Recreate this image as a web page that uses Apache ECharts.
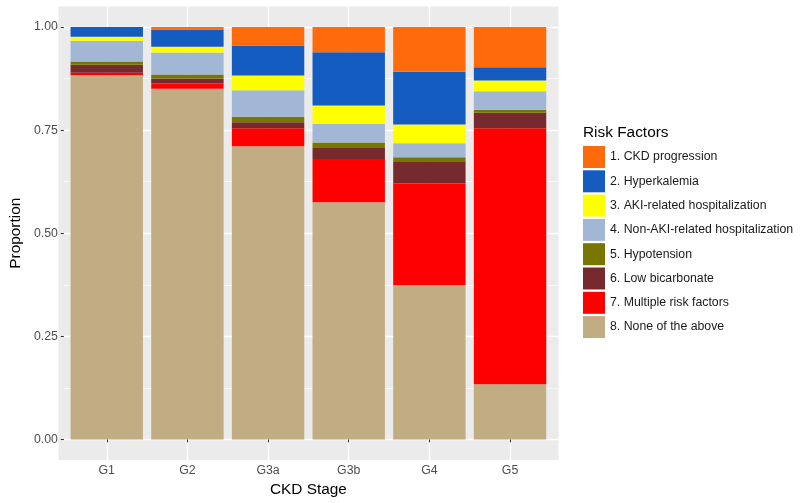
<!DOCTYPE html>
<html>
<head>
<meta charset="utf-8">
<script src="https://cdn.jsdelivr.net/npm/echarts@6/dist/echarts.min.js"></script>
<style>html,body{margin:0;padding:0;background:#fff}#c{width:800px;height:503px}</style>
</head>
<body>
<div id="c"></div>
<script>
var stages = ['G1', 'G2', 'G3a', 'G3b', 'G4', 'G5'];
var yTicks = [0, 0.25, 0.5, 0.75, 1];
var riskNames = ['1. CKD progression', '2. Hyperkalemia', '3. AKI-related hospitalization',
  '4. Non-AKI-related hospitalization', '5. Hypotension', '6. Low bicarbonate',
  '7. Multiple risk factors', '8. None of the above'];
var ckdProgression = [0.0000, 0.0056, 0.0444, 0.0607, 0.1085, 0.0971];
var hyperkalemia   = [0.0235, 0.0422, 0.0728, 0.1293, 0.1277, 0.0323];
var akiHosp        = [0.0097, 0.0136, 0.0357, 0.0447, 0.0454, 0.0259];
var nonAkiHosp     = [0.0500, 0.0534, 0.0648, 0.0452, 0.0339, 0.0454];
var hypotension    = [0.0080, 0.0097, 0.0129, 0.0114, 0.0097, 0.0073];
var lowBicarbonate = [0.0195, 0.0122, 0.0145, 0.0284, 0.0542, 0.0371];
var multipleRisk   = [0.0062, 0.0131, 0.0437, 0.1053, 0.2466, 0.6209];
var noneAbove      = [0.8831, 0.8502, 0.7112, 0.5750, 0.3740, 0.1340];

var seriesData = [ckdProgression, hyperkalemia, akiHosp, nonAkiHosp, hypotension, lowBicarbonate, multipleRisk, noneAbove];
var colors = ['#FF6A0C', '#155CC0', '#FFFF00', '#A2B6D5', '#777600', '#772A2D', '#FF0000', '#C1AC84'];

var FONT = '"Liberation Sans", Arial, Helvetica, sans-serif';
var series = [];
for (var i = seriesData.length - 1; i >= 0; i--) {
  series.push({
    name: riskNames[i], type: 'bar', stack: 'total',
    xAxisIndex: 2, yAxisIndex: 2,
    barWidth: 72.4, clip: false,
    itemStyle: { color: colors[i] },
    data: seriesData[i]
  });
}

var chart = echarts.init(document.getElementById('c'), null, { renderer: 'canvas' });
chart.setOption({
  animation: false,
  textStyle: { fontFamily: FONT },
  title: {
    text: 'Risk Factors', left: 583, top: 125, padding: 0,
    textStyle: { fontFamily: FONT, fontSize: 15.4, fontWeight: 'normal', color: '#000' }
  },
  legend: {
    data: riskNames, orient: 'vertical', left: 583, top: 146, padding: 0,
    itemWidth: 22, itemHeight: 22, itemGap: 2.3, icon: 'rect',
    selectedMode: false,
    textStyle: { fontFamily: FONT, fontSize: 12.3, color: '#1a1a1a' }
  },
  grid: [
    { left: 58.5, top: 6.5, width: 500, height: 453.5, show: true, backgroundColor: '#EBEBEB', borderWidth: 0 },
    { left: 58.5, top: 27.1, width: 500, height: 412.3, show: false },
    { left: 106.75, top: 6.5, width: 403.3, height: 453.5, show: false }
  ],
  xAxis: [
    { gridIndex: 0, type: 'value', show: false },
    { gridIndex: 1, type: 'value', show: false },
    {
      gridIndex: 2, type: 'category', data: stages, boundaryGap: false,
      axisLine: { show: false },
      axisTick: { show: true, length: 3, lineStyle: { color: '#333', width: 1 } },
      axisLabel: { color: '#4D4D4D', fontSize: 12.3, margin: 5, fontFamily: FONT },
      splitLine: { show: true, lineStyle: { color: '#FFFFFF', width: 1.3 } },
      name: 'CKD Stage', nameLocation: 'middle', nameGap: 21,
      nameTextStyle: { fontSize: 15.4, color: '#000', fontFamily: FONT }
    }
  ],
  yAxis: [
    { gridIndex: 0, type: 'value', show: false },
    {
      gridIndex: 1, type: 'value', min: yTicks[0], max: yTicks[yTicks.length - 1], interval: 0.25,
      axisLine: { show: false },
      axisTick: { show: true, length: 3, lineStyle: { color: '#333', width: 1 } },
      axisLabel: { color: '#4D4D4D', fontSize: 12.3, margin: 6, fontFamily: FONT,
        formatter: function (v) { return v.toFixed(2); } },
      splitLine: { show: true, lineStyle: { color: '#FFFFFF', width: 1.3 } },
      minorTick: { show: false, splitNumber: 2 },
      minorSplitLine: { show: true, lineStyle: { color: '#FFFFFF', width: 0.6 } },
      name: 'Proportion', nameLocation: 'middle', nameGap: 38,
      nameTextStyle: { fontSize: 15.4, color: '#000', fontFamily: FONT }
    },
    { gridIndex: 2, type: 'value', min: -0.05, max: 1.05, show: false }
  ],
  series: series
});
</script>
</body>
</html>
